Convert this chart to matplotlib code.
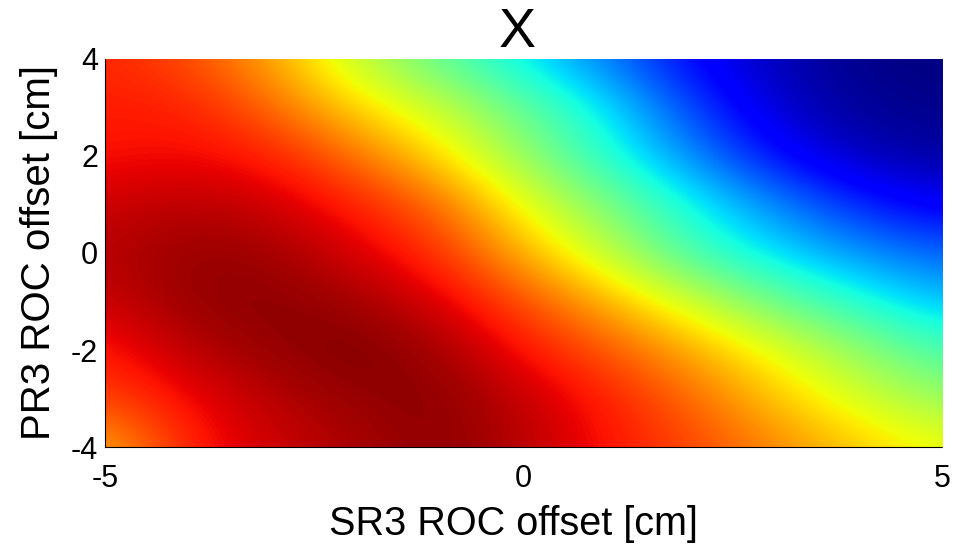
import numpy as np
import matplotlib
matplotlib.use("Agg")
import matplotlib.pyplot as plt

# grid points (cm)
sr3_offset = [-5, -4, -3, -2, -1, 0, 1, 2, 3, 4, 5]
pr3_offset = [4, 3, 2, 1, 0, -1, -2, -3, -4]

# normalised value, rows from PR3 = 4 down to -4
row_p4 = [0.87, 0.83, 0.73, 0.58, 0.46, 0.35, 0.24, 0.12, 0.05, 0.01, 0.00]
row_p3 = [0.88, 0.88, 0.80, 0.68, 0.59, 0.47, 0.35, 0.19, 0.07, 0.02, 0.01]
row_p2 = [0.89, 0.90, 0.88, 0.79, 0.67, 0.53, 0.39, 0.26, 0.13, 0.05, 0.03]
row_p1 = [0.93, 0.95, 0.93, 0.88, 0.80, 0.63, 0.50, 0.37, 0.26, 0.16, 0.10]
row_0 = [0.95, 0.98, 0.97, 0.92, 0.86, 0.72, 0.58, 0.43, 0.34, 0.27, 0.22]
row_m1 = [0.93, 0.98, 0.99, 0.97, 0.92, 0.83, 0.72, 0.60, 0.48, 0.39, 0.31]
row_m2 = [0.88, 0.95, 0.98, 1.00, 0.97, 0.89, 0.82, 0.73, 0.63, 0.53, 0.43]
row_m3 = [0.84, 0.90, 0.95, 0.98, 0.99, 0.94, 0.88, 0.80, 0.70, 0.61, 0.53]
row_m4 = [0.72, 0.88, 0.93, 0.96, 0.99, 0.95, 0.89, 0.84, 0.77, 0.70, 0.64]

values = np.array([row_p4, row_p3, row_p2, row_p1, row_0,
                   row_m1, row_m2, row_m3, row_m4])

plt.rcParams['font.family'] = ['Liberation Sans', 'DejaVu Sans']
plt.rcParams['axes.unicode_minus'] = False

fig = plt.figure(figsize=(9.54, 5.51), dpi=100)
ax = fig.add_axes([0.110, 0.1887, 0.8774, 0.7043])

dx = (sr3_offset[1] - sr3_offset[0]) / 2
dy = (pr3_offset[0] - pr3_offset[1]) / 2
ax.imshow(values, cmap='jet', vmin=0, vmax=1, aspect='auto',
          interpolation='bicubic', origin='upper',
          extent=[sr3_offset[0] - dx, sr3_offset[-1] + dx,
                  pr3_offset[-1] - dy, pr3_offset[0] + dy])
ax.set_xlim(-5, 5)
ax.set_ylim(-4, 4)

ax.set_xticks([-5, 0, 5])
ax.set_yticks([-4, -2, 0, 2, 4])
ax.tick_params(length=0, labelsize=22)
ax.tick_params(axis='x', pad=12.5)
ax.tick_params(axis='y', pad=5)

for side in ['top', 'right']:
    ax.spines[side].set_visible(False)
for side in ['left', 'bottom']:
    ax.spines[side].set_linestyle((0, (1, 1)))
    ax.spines[side].set_linewidth(0.8)

ax.set_xlabel('SR3 ROC offset [cm]', fontsize=28.5, labelpad=8, x=0.488)
ax.set_ylabel('PR3 ROC offset [cm]', fontsize=29, labelpad=9)
ax.set_title('X', fontsize=40, pad=5, x=0.493)

fig.savefig('out.png', dpi=100)
